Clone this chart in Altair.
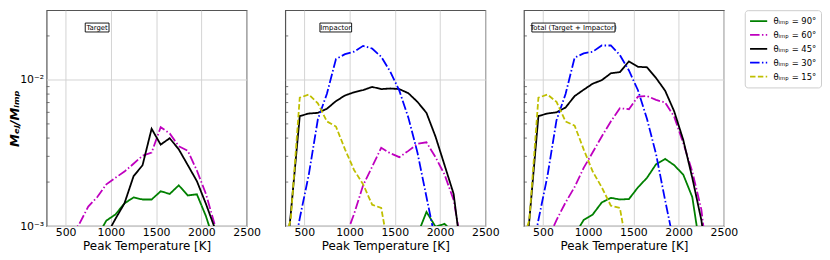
import altair as alt
import pandas as pd

# ---------------- data ----------------
ANGLES = ["θᵢₘₚ = 90°", "θᵢₘₚ = 60°", "θᵢₘₚ = 45°", "θᵢₘₚ = 30°", "θᵢₘₚ = 15°"]
COLORS = ["#008000", "#bf00bf", "#000000", "#0000ff", "#bfbf00"]
DASHES = [[1, 0], [9.6, 2.4, 1.5, 2.4], [1, 0], [9.6, 2.4, 1.5, 2.4], [5.5, 2.4]]
PANELS = ["Target", "Impactor", "Total (Target + Impactor)"]

# Target
tgt90_T = [850, 950, 1050, 1150, 1250, 1350, 1450, 1550, 1650, 1750, 1850, 1950, 2050, 2150]
tgt90_v = [0.85e-3, 1.09e-3, 1.2e-3, 1.43e-3, 1.57e-3, 1.52e-3, 1.52e-3, 1.73e-3, 1.66e-3, 1.9e-3,
           1.62e-3, 1.65e-3, 1.17e-3, 0.75e-3]
tgt60_T = [550, 650, 750, 850, 950, 1050, 1150, 1250, 1350, 1450, 1550, 1650, 1750, 1850, 1950, 2050, 2150, 2250]
tgt60_v = [0.85e-3, 1.03e-3, 1.36e-3, 1.58e-3, 1.93e-3, 2.14e-3, 2.36e-3, 2.67e-3, 3.03e-3, 3.18e-3,
           4.75e-3, 4.3e-3, 3.52e-3, 3.27e-3, 2.4e-3, 1.66e-3, 1.01e-3, 0.5e-3]
tgt45_T = [950, 1050, 1150, 1250, 1350, 1450, 1550, 1650, 1750, 1850, 1950, 2050, 2150]
tgt45_v = [0.86e-3, 1.12e-3, 1.43e-3, 2.19e-3, 2.61e-3, 4.63e-3, 3.61e-3, 3.99e-3, 3.35e-3, 2.61e-3,
           2.03e-3, 1.42e-3, 0.96e-3]

# Impactor
imp90_T = [1750, 1850, 1950, 2050, 2150]
imp90_v = [0.87e-3, 1.25e-3, 0.99e-3, 1.035e-3, 0.9e-3]
imp60_T = [950, 1050, 1150, 1250, 1350, 1450, 1550, 1650, 1750, 1850, 1950, 2050, 2150, 2250]
imp60_v = [0.82e-3, 1.21e-3, 1.9e-3, 2.55e-3, 3.43e-3, 3.15e-3, 2.96e-3, 3.27e-3, 3.65e-3, 3.74e-3,
           2.96e-3, 2.25e-3, 1.51e-3, 0.66e-3]
imp45_T = [250, 350, 450, 550, 650, 750, 850, 950, 1050, 1150, 1250, 1350, 1450, 1550, 1650, 1750,
           1850, 1950, 2050, 2150, 2250]
imp45_v = [0.3e-3, 1.2e-3, 5.66e-3, 5.89e-3, 5.95e-3, 6.35e-3, 7.16e-3, 7.83e-3, 8.23e-3, 8.52e-3,
           8.96e-3, 8.65e-3, 8.74e-3, 8.65e-3, 8.11e-3, 7.08e-3, 5.95e-3, 4.09e-3, 2.61e-3, 1.66e-3, 0.54e-3]
imp30_T = [350, 450, 550, 650, 750, 850, 950, 1050, 1150, 1250, 1350, 1450, 1550, 1650, 1750, 1850, 1950]
imp30_v = [0.52e-3, 1.13e-3, 2.25e-3, 5.38e-3, 8.03e-3, 1.39e-2, 1.5e-2, 1.56e-2, 1.71e-2, 1.64e-2,
           1.44e-2, 1.14e-2, 8.44e-3, 5.52e-3, 3.19e-3, 1.58e-3, 0.79e-3]
imp15_T = [250, 350, 450, 550, 650, 750, 850, 950, 1050, 1150, 1250, 1350, 1450]
imp15_v = [0.7e-3, 1.1e-3, 7.56e-3, 7.94e-3, 6.92e-3, 5.2e-3, 4.8e-3, 3.35e-3, 2.42e-3, 1.93e-3,
           1.4e-3, 1.33e-3, 0.6e-3]

# Total
tot90_T = [850, 950, 1050, 1150, 1250, 1350, 1450, 1550, 1650, 1750, 1850, 1950, 2050, 2150, 2250]
tot90_v = [0.87e-3, 1.1e-3, 1.2e-3, 1.45e-3, 1.56e-3, 1.52e-3, 1.53e-3, 1.84e-3, 2.14e-3, 2.65e-3,
           2.88e-3, 2.61e-3, 2.25e-3, 1.58e-3, 0.62e-3]
tot60_T = [550, 650, 750, 850, 950, 1050, 1150, 1250, 1350, 1450, 1550, 1650, 1750, 1850, 1950, 2050,
           2150, 2250, 2350]
tot60_v = [0.8e-3, 1.1e-3, 1.45e-3, 1.85e-3, 2.5e-3, 3.2e-3, 4.1e-3, 5.2e-3, 6.4e-3, 6.3e-3, 7.7e-3,
           7.75e-3, 7.3e-3, 7.0e-3, 5.6e-3, 3.7e-3, 2.36e-3, 1.3e-3, 0.4e-3]
tot45_T = [250, 350, 450, 550, 650, 750, 850, 950, 1050, 1150, 1250, 1350, 1450, 1550, 1650, 1750,
           1850, 1950, 2050, 2150, 2250, 2350]
tot45_v = [0.3e-3, 1.1e-3, 5.66e-3, 5.89e-3, 6.0e-3, 6.47e-3, 7.75e-3, 8.57e-3, 9.42e-3, 9.96e-3,
           1.11e-2, 1.13e-2, 1.34e-2, 1.23e-2, 1.22e-2, 1.03e-2, 8.44e-3, 6.1e-3, 3.89e-3, 2.14e-3,
           1.1e-3, 0.4e-3]
tot30_T = [350, 450, 550, 650, 750, 850, 950, 1050, 1150, 1250, 1350, 1450, 1550, 1650, 1750, 1850, 1950]
tot30_v = [0.52e-3, 1.1e-3, 2.2e-3, 5.3e-3, 8.0e-3, 1.42e-2, 1.52e-2, 1.56e-2, 1.72e-2, 1.72e-2,
           1.48e-2, 1.16e-2, 8.5e-3, 5.4e-3, 3.1e-3, 1.5e-3, 0.75e-3]
tot15_T = [250, 350, 450, 550, 650, 750, 850, 950, 1050, 1150, 1250, 1350, 1450]
tot15_v = [0.7e-3, 1.1e-3, 7.56e-3, 7.94e-3, 7.08e-3, 5.2e-3, 4.87e-3, 3.35e-3, 2.36e-3, 1.84e-3,
           1.38e-3, 1.33e-3, 0.6e-3]

SERIES = [
    (PANELS[0], ANGLES[0], tgt90_T, tgt90_v),
    (PANELS[0], ANGLES[1], tgt60_T, tgt60_v),
    (PANELS[0], ANGLES[2], tgt45_T, tgt45_v),
    (PANELS[1], ANGLES[0], imp90_T, imp90_v),
    (PANELS[1], ANGLES[1], imp60_T, imp60_v),
    (PANELS[1], ANGLES[2], imp45_T, imp45_v),
    (PANELS[1], ANGLES[3], imp30_T, imp30_v),
    (PANELS[1], ANGLES[4], imp15_T, imp15_v),
    (PANELS[2], ANGLES[0], tot90_T, tot90_v),
    (PANELS[2], ANGLES[1], tot60_T, tot60_v),
    (PANELS[2], ANGLES[2], tot45_T, tot45_v),
    (PANELS[2], ANGLES[3], tot30_T, tot30_v),
    (PANELS[2], ANGLES[4], tot15_T, tot15_v),
]

X_TICKS = [500, 1000, 1500, 2000, 2500]
Y_TICKS = [1e-3, 1e-2]
Y_MINOR = [2e-3, 3e-3, 4e-3, 5e-3, 6e-3, 7e-3, 8e-3, 9e-3, 2e-2]

rows = []
for panel, ang, ts, vs in SERIES:
    for t, v in zip(ts, vs):
        rows.append({"panel": panel, "angle": ang, "T": t, "v": v})
df = pd.DataFrame(rows)

W, H = 202, 218
XDOM = [290, 2500]
YDOM = [1e-3, 3e-2]

# annotation boxes (pixel layout inside each panel)
BOXES = {
    PANELS[0]: (39, 63),
    PANELS[1]: (35, 67),
    PANELS[2]: (8, 92),
}


def make_panel(panel, first):
    xs = alt.Scale(domain=XDOM, nice=False, zero=False)
    ys = alt.Scale(type="log", domain=YDOM, nice=False)
    xaxis = alt.Axis(values=X_TICKS, format="d", grid=True, ticks=False, domain=False,
                     labelFontSize=11, labelPadding=1, title="Peak Temperature [K]",
                     titleFontSize=12, titleFontWeight="normal", titlePadding=3, labelFlush=False)
    if first:
        yaxis = alt.Axis(values=Y_TICKS, grid=True, ticks=False, domain=False, labelFontSize=11,
                         labelExpr="datum.value < 0.005 ? '10⁻³' : '10⁻²'", labelPadding=3,
                         title="Mₑⱼ/Mᵢₘₚ", titleFontSize=13, titleFontStyle="italic",
                         titleFontWeight="bold", titleX=-25, titleY=H / 2)
    else:
        yaxis = alt.Axis(values=Y_TICKS, grid=True, ticks=False, domain=False, labels=False, title=None)

    sub = df[df.panel == panel]
    lines = alt.Chart(sub).mark_line(clip=True, strokeWidth=1.8).encode(
        x=alt.X("T:Q", scale=xs, axis=xaxis),
        y=alt.Y("v:Q", scale=ys, axis=yaxis),
        color=alt.Color("angle:N", scale=alt.Scale(domain=ANGLES, range=COLORS),
                        legend=alt.Legend(title=None)),
        strokeDash=alt.StrokeDash("angle:N", scale=alt.Scale(domain=ANGLES, range=DASHES),
                                  legend=alt.Legend(title=None)),
        order=alt.Order("T:Q"),
    )
    minor = alt.Chart(pd.DataFrame({"m": Y_MINOR})).mark_rule(color="#555555", strokeWidth=0.8).encode(
        y=alt.Y("m:Q", scale=ys, axis=yaxis), x=alt.value(0), x2=alt.value(3))
    x1, x2 = BOXES[panel]
    one = pd.DataFrame({"t": [panel]})
    box = alt.Chart(one).mark_rect(color="white", fill="white", stroke="black", strokeWidth=0.9,
                                   opacity=1).encode(
        x=alt.value(x1), x2=alt.value(x2), y=alt.value(13), y2=alt.value(22))
    txt = alt.Chart(one).mark_text(fontSize=7, font="DejaVu Sans", color="black",
                                   align="center", baseline="middle").encode(
        text="t:N", x=alt.value((x1 + x2) / 2), y=alt.value(17.8))
    return alt.layer(lines, minor, box, txt).properties(width=W, height=H)


chart = alt.hconcat(
    make_panel(PANELS[0], True),
    make_panel(PANELS[1], False),
    make_panel(PANELS[2], False),
    spacing=39,
    bounds="flush",
).resolve_scale(color="shared", strokeDash="shared").properties(
    padding=0
).configure(
    font="DejaVu Sans"
).configure_view(
    stroke="#555555", strokeWidth=1.2
).configure_axis(
    gridColor="#d3d3d3", gridWidth=1, labelColor="black", titleColor="black"
).configure_legend(
    orient="right", offset=6, padding=4, strokeColor="#cccccc", fillColor="white",
    cornerRadius=3, labelFontSize=8.5, symbolType="stroke", symbolSize=300,
    symbolStrokeWidth=1.8, rowPadding=0, clipHeight=14, labelOffset=5
)

chart.save("out.html", embed_options={"renderer": "svg", "actions": False})
